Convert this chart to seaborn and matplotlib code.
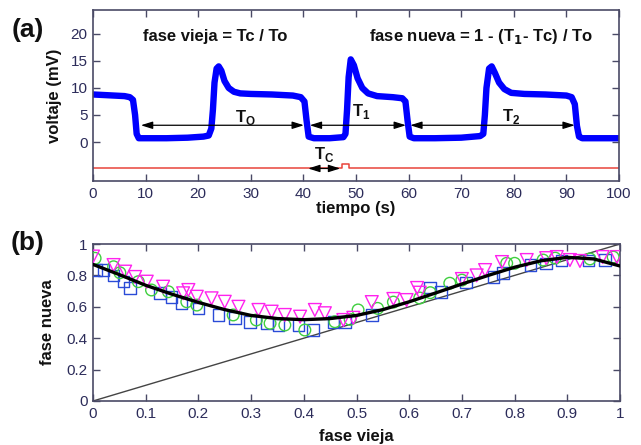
import numpy as np
import pandas as pd
import matplotlib
matplotlib.use("Agg")
import matplotlib.pyplot as plt
import seaborn as sns

# ---------------- data: panel (a) ----------------
trace_t = [0, 2, 4, 6, 7, 7.6, 8.0, 8.3, 8.7, 10, 14, 18, 21, 22.0, 22.5, 22.8, 23.1, 23.5, 23.9,
           24.4, 25.0, 25.8, 26.8, 28, 30, 34, 38, 39.5, 40.2, 40.6, 41.0, 42, 45, 47.6, 48.0, 48.3,
           48.6, 49.0, 49.6, 50.3, 51.2, 52.3, 54, 57, 58.8, 59.4, 59.8, 60.2, 61, 65, 70, 73.6, 74.2,
           74.5, 74.8, 75.3, 75.8, 76.4, 77.2, 78.2, 79.5, 82, 86, 90, 91.0, 91.6, 92.0, 92.4, 93, 96, 100]
trace_v = [8.8, 8.7, 8.6, 8.5, 8.3, 7.8, 5.0, 1.5, 0.7, 0.7, 0.7, 0.8, 1.0, 1.2, 2.5, 6.0, 11.0, 13.6, 14.0,
           13.2, 11.3, 10.0, 9.3, 9.0, 8.9, 8.8, 8.6, 8.3, 7.5, 4.0, 1.0, 0.7, 0.7, 0.9, 1.5, 6.0,
           12.0, 15.3, 14.2, 11.8, 10.0, 9.0, 8.5, 8.3, 8.1, 7.5, 4.0, 1.0, 0.7, 0.7, 0.8, 1.1, 1.5,
           5.0, 10.0, 13.6, 14.0, 12.8, 11.0, 9.8, 9.1, 8.9, 8.8, 8.6, 8.3, 7.0, 3.0, 1.0, 0.7, 0.7, 0.7]

stim_t = [0, 47.3, 47.3, 48.6, 48.6, 100]
stim_v = [-4.9, -4.9, -4.0, -4.0, -4.9, -4.9]

# periods shown by double arrows
period_start = [9.1, 41.2, 60.3, 40.9]
period_end = [40.1, 59.5, 91.6, 47.0]
period_level = [3.1, 3.1, 3.1, -4.9]
period_label = ["T$_\\mathregular{O}$", "T$_\\mathregular{1}$", "T$_\\mathregular{2}$", "T$_\\mathregular{C}$"]
period_label_x = [29.0, 51.0, 79.5, 44.0]
period_label_y = [4.6, 5.7, 4.8, -2.4]

xticks_a = [0, 10, 20, 30, 40, 50, 60, 70, 80, 90, 100]
yticks_a = [0, 5, 10, 15, 20]

# ---------------- data: panel (b) ----------------
sq_x = [0.007, 0.02, 0.039, 0.058, 0.07, 0.127, 0.149, 0.168, 0.2, 0.238, 0.27, 0.298, 0.33, 0.352,
        0.39, 0.418, 0.456, 0.478, 0.53, 0.64, 0.66, 0.708, 0.76, 0.778, 0.83, 0.86, 0.889, 0.94, 0.971]
sq_y = [0.834, 0.834, 0.80, 0.76, 0.72, 0.687, 0.664, 0.626, 0.59, 0.547, 0.527, 0.505, 0.495, 0.484,
        0.484, 0.452, 0.505, 0.505, 0.548, 0.724, 0.696, 0.754, 0.79, 0.817, 0.866, 0.877, 0.894, 0.894, 0.898]

ci_x = [0.004, 0.039, 0.051, 0.086, 0.111, 0.143, 0.178, 0.197, 0.266, 0.31, 0.336, 0.364, 0.402, 0.459,
        0.488, 0.503, 0.54, 0.57, 0.62, 0.64, 0.677, 0.70, 0.785, 0.80, 0.854, 0.877, 0.943, 0.987]
ci_y = [0.909, 0.855, 0.817, 0.76, 0.707, 0.696, 0.632, 0.611, 0.548, 0.516, 0.495, 0.484, 0.452, 0.505,
        0.52, 0.58, 0.59, 0.63, 0.656, 0.69, 0.75, 0.77, 0.877, 0.877, 0.898, 0.91, 0.905, 0.917]

tr_x = [0.0, 0.039, 0.061, 0.08, 0.102, 0.133, 0.171, 0.181, 0.197, 0.225, 0.25, 0.276, 0.314, 0.339,
        0.364, 0.393, 0.421, 0.44, 0.475, 0.494, 0.529, 0.57, 0.595, 0.615, 0.62, 0.70, 0.728, 0.744,
        0.776, 0.823, 0.86, 0.88, 0.905, 0.924, 0.967, 0.994]
tr_y = [0.92, 0.866, 0.824, 0.79, 0.76, 0.728, 0.686, 0.707, 0.664, 0.654, 0.632, 0.60, 0.58, 0.569,
        0.548, 0.537, 0.58, 0.559, 0.516, 0.53, 0.63, 0.65, 0.643, 0.72, 0.69, 0.777, 0.80, 0.834,
        0.885, 0.898, 0.91, 0.917, 0.898, 0.892, 0.917, 0.917]

fit_x = [0.0, 0.05, 0.1, 0.15, 0.2, 0.25, 0.3, 0.35, 0.4, 0.45, 0.5, 0.55, 0.6, 0.65, 0.7, 0.75,
         0.8, 0.85, 0.9, 0.95, 1.0]
fit_y = [0.87, 0.805, 0.737, 0.68, 0.628, 0.582, 0.545, 0.525, 0.518, 0.525, 0.545, 0.582, 0.632, 0.688,
         0.745, 0.80, 0.852, 0.893, 0.915, 0.905, 0.86]

diag_x = [0.0, 1.0]
diag_y = [0.0, 1.0]

xticks_b = [0, 0.1, 0.2, 0.3, 0.4, 0.5, 0.6, 0.7, 0.8, 0.9, 1]
xticklabels_b = ["0", "0.1", "0.2", "0.3", "0.4", "0.5", "0.6", "0.7", "0.8", "0.9", "1"]
yticks_b = [0, 0.2, 0.4, 0.6, 0.8, 1]
yticklabels_b = ["0", "0.2", "0.4", "0.6", "0.8", "1"]

# ---------------- style ----------------
sns.set_style("ticks")
plt.rcParams['font.family'] = ['Liberation Sans', 'DejaVu Sans']
TICK_FONT = ['Liberation Sans Narrow', 'Liberation Sans', 'DejaVu Sans']
TICK_COLOR = "#2c2c5a"
SPINE_COLOR = "#4a4a66"

fig = plt.figure(figsize=(6.41, 4.45), dpi=100)
ax1 = fig.add_axes([93 / 641, 1 - 181 / 445, 526 / 641, 171 / 445])
ax2 = fig.add_axes([93 / 641, 1 - 401 / 445, 527 / 641, 157 / 445])


def style_axes(ax):
    for s in ax.spines.values():
        s.set_color(SPINE_COLOR)
        s.set_linewidth(1.2)
        s.set_visible(True)
    ax.tick_params(direction='in', length=5, width=1.0, color=SPINE_COLOR,
                   top=True, right=True, labelsize=11, labelcolor=TICK_COLOR, pad=4)
    for lab in ax.get_xticklabels() + ax.get_yticklabels():
        lab.set_family(TICK_FONT)


# ---------------- panel (a) ----------------
df_a = pd.DataFrame({"t": trace_t, "v": trace_v})
df_s = pd.DataFrame({"t": stim_t, "v": stim_v})
sns.lineplot(data=df_s, x="t", y="v", ax=ax1, color="#e8443a", lw=1.1, sort=False, estimator=None)
sns.lineplot(data=df_a, x="t", y="v", ax=ax1, color="#0000ff", lw=4.6, sort=False, estimator=None,
             solid_capstyle='butt')

for x0, x1, lv, lab, lx, ly in zip(period_start, period_end, period_level, period_label,
                                   period_label_x, period_label_y):
    ax1.annotate("", xy=(x0, lv), xytext=(x1, lv),
                 arrowprops=dict(arrowstyle="<|-|>,head_length=0.7,head_width=0.22",
                                 color="black", lw=0.9, shrinkA=0, shrinkB=0))
    ax1.text(lx, ly, lab, ha="center", va="center", fontsize=12, fontweight="bold", color="#111111")

ax1.text(9.6, 19.6, "fase vieja = Tc / To", ha="left", va="center", fontsize=12,
         fontweight="bold", color="#111111")
ax1.text(52.5, 19.6, "fase nueva = 1 - (T$_\\mathbf{1}$- Tc) / To", ha="left", va="center",
         fontsize=12, fontweight="bold", color="#111111")

ax1.set_xlim(0, 100)
ax1.set_ylim(-7.22, 24.44)
ax1.set_xticks(xticks_a)
ax1.set_yticks(yticks_a)
ax1.set_xlabel("tiempo (s)", fontsize=12, fontweight="bold", labelpad=0, color="#111111")
ax1.set_ylabel("voltaje (mV)", fontsize=12, fontweight="bold", labelpad=6, color="#111111")
style_axes(ax1)

# ---------------- panel (b) ----------------
sns.lineplot(x=diag_x, y=diag_y, ax=ax2, color="#444444", lw=1.0)
sns.scatterplot(x=sq_x, y=sq_y, ax=ax2, marker="s", s=70, facecolors="none",
                edgecolor="#2a4bd7", linewidth=1.0, zorder=3)
sns.scatterplot(x=ci_x, y=ci_y, ax=ax2, marker="o", s=70, facecolors="none",
                edgecolor="#3fcf3f", linewidth=1.0, zorder=3)
sns.scatterplot(x=tr_x, y=tr_y, ax=ax2, marker="v", s=85, facecolors="none",
                edgecolor="#ff22ee", linewidth=1.0, zorder=3)
sns.lineplot(x=fit_x, y=fit_y, ax=ax2, color="black", lw=2.4, zorder=4)

ax2.set_xlim(0, 1)
ax2.set_ylim(0, 1)
ax2.set_xticks(xticks_b)
ax2.set_xticklabels(xticklabels_b)
ax2.set_yticks(yticks_b)
ax2.set_yticklabels(yticklabels_b)
ax2.set_xlabel("fase vieja", fontsize=12, fontweight="bold", labelpad=6, color="#111111")
ax2.set_ylabel("fase nueva", fontsize=12, fontweight="bold", labelpad=8, color="#111111")
style_axes(ax2)

fig.text(28 / 641, 1 - 30 / 445, "(a)", ha="center", va="center", fontsize=19, fontweight="bold",
         color="#111111")
fig.text(28 / 641, 1 - 243 / 445, "(b)", ha="center", va="center", fontsize=19, fontweight="bold",
         color="#111111")

fig.savefig("out.png", dpi=100)
